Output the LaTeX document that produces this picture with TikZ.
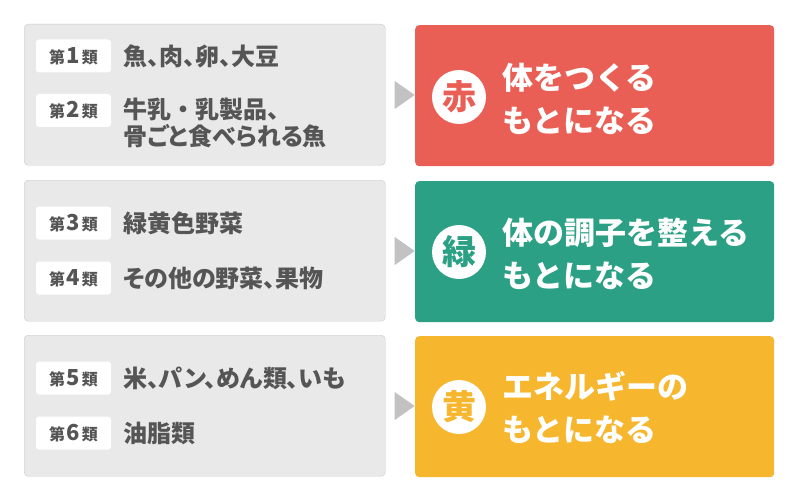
\documentclass[tikz,border=0pt]{standalone}
\usepackage{fontspec}
\setmainfont{Noto Sans CJK JP}
\newfontfamily\tightjp{Noto Sans CJK JP}[RawFeature=+palt]
\usepackage{xcolor}
\usetikzlibrary{positioning,shapes.geometric}

\definecolor{boxgray}{HTML}{E9E9E9}
\definecolor{boxline}{HTML}{CACACA}
\definecolor{arrowgray}{HTML}{C2C2C2}
\definecolor{textgray}{HTML}{555555}
\definecolor{akared}{HTML}{EA5F55}
\definecolor{midori}{HTML}{2BA085}
\definecolor{kiiro}{HTML}{F6B72E}

\newcommand{\rank}[1]{{\fontsize{16}{16}\selectfont 第}\,{\fontsize{22}{22}\selectfont #1}\,{\fontsize{16}{16}\selectfont 類}}

\begin{document}
\begin{tikzpicture}[x=1pt, y=-1pt, group/.style = {draw=boxline, fill=boxgray, rounded corners=4pt, minimum width=361pt, minimum height=141pt, inner sep=0pt, anchor=north west}, role/.style = {rounded corners=4pt, minimum width=359pt, minimum height=141pt, inner sep=0pt, anchor=north west}, tag/.style = {fill=white, rounded corners=3pt, minimum width=75pt, minimum height=33pt, inner sep=0pt, text=textgray, font=\bfseries}, item/.style = {anchor=west, inner sep=0pt, align=left, text=textgray, font=\tightjp\bfseries\fontsize{24}{27}\selectfont}, badge/.style = {circle, fill=white, minimum size=54pt, inner sep=0pt, font=\bfseries\fontsize{34}{34}\selectfont}, title/.style = {anchor=west, inner sep=0pt, align=left, text=white, font=\bfseries\fontsize{31}{43}\selectfont}, tri/.style = {isosceles triangle, isosceles triangle stretches, fill=arrowgray, minimum width=28pt, minimum height=20pt, inner sep=0pt}]

\useasboundingbox (0,0) rectangle (800,500);

% row 1
\node[group] (g1) at (24,24) {};
\node[role, fill=akared] (r1) at (415,25) {};
\node[tri] (t1) at (402,95) {};
\node[tag] (k1) at (73.5,56) {\rank{1}};
\node[item] (i1) at (123,56) {魚、肉、卵、大豆};
\node[tag] (k2) at (73.5,110.5) {\rank{2}};
\node[item] (i2) at (123,123) {牛乳{\rmfamily\bfseries ・}乳製品、\\骨ごと食べられる魚};
\node[badge, text=akared] (m1) at (459,97) {赤};
\node[title] (h1) at (502,98.5) {体をつくる\\もとになる};

% row 2
\begin{scope}[shift = {(0,156)}]
\node[group] (g2) at (24,24) {};
\node[role, fill=midori] (r2) at (415,25) {};
\node[tri] (t2) at (402,95) {};
\node[tag] (k3) at (73.5,67) {\rank{3}};
\node[item] (i3) at (123,67) {緑黄色野菜};
\node[tag] (k4) at (73.5,122) {\rank{4}};
\node[item] (i4) at (123,122) {その他の野菜、果物};
\node[badge, text=midori] (m2) at (459,96) {緑};
\node[title] (h2) at (502,98) {体の調子を整える\\もとになる};
\end{scope}

% row 3
\begin{scope}[shift = {(0,311)}]
\node[group] (g3) at (24,24) {};
\node[role, fill=kiiro] (r3) at (415,25) {};
\node[tri] (t3) at (402,95) {};
\node[tag] (k5) at (73.5,67) {\rank{5}};
\node[item] (i5) at (123,67) {米、パン、めん類、いも};
\node[tag] (k6) at (73.5,122) {\rank{6}};
\node[item] (i6) at (123,122) {油脂類};
\node[badge, text=kiiro] (m3) at (459,96) {黄};
\node[title] (h3) at (502,96.5) {エネルギーの\\もとになる};
\end{scope}
\end{tikzpicture}
\end{document}
